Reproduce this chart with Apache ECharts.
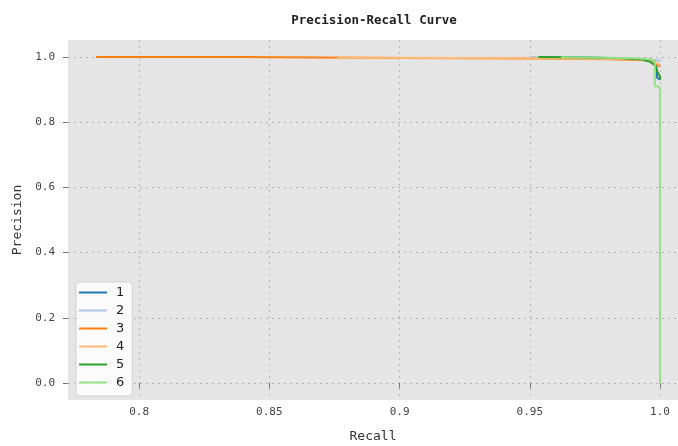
<!DOCTYPE html>
<html>
<head>
    <meta charset="utf-8">
    <title>Precision-Recall Curve</title>
    <script src="https://cdn.jsdelivr.net/npm/echarts@6/dist/echarts.min.js"></script>
    <style>
        html, body { margin: 0; padding: 0; background: #fff; overflow: hidden; }
        #container { width: 678px; height: 446px; }
    </style>
</head>
<body>
<div id="container"></div>
<script type="text/javascript">
    // tick labels
    var xTicks = [0.8, 0.85, 0.9, 0.95, 1.0];
    var yTicks = [0.0, 0.2, 0.4, 0.6, 0.8, 1.0];

    var classNames = ['1', '2', '3', '4', '5', '6'];
    var colors = ['#1f77b4', '#aec7e8', '#ff7f0e', '#ffbb78', '#2ca02c', '#98df8a'];

    // [recall, precision] pairs
    var curve1 = [[0.962, 1.0], [0.985, 0.996], [0.995, 0.99], [0.998, 0.985], [0.9988, 0.96], [0.9988, 0.937], [0.9995, 0.935], [1.0, 0.93]];
    var curve2 = [[0.95, 1.0], [0.98, 0.997], [0.995, 0.992], [0.999, 0.99], [1.0, 0.985]];
    var curve3 = [[0.7835, 1.0], [0.838, 1.0], [0.838, 0.999], [0.9, 0.997], [0.95, 0.995], [0.98, 0.993], [0.995, 0.99], [0.998, 0.985], [0.999, 0.975], [1.0, 0.97]];
    var curve4 = [[0.876, 0.998], [0.92, 0.997], [0.96, 0.995], [0.99, 0.993], [0.997, 0.99], [0.999, 0.98], [1.0, 0.975]];
    var curve5 = [[0.9533, 1.0], [0.965, 0.999], [0.985, 0.996], [0.993, 0.992], [0.996, 0.986], [0.998, 0.975], [0.999, 0.955], [1.0, 0.94], [1.0, 0.93]];
    var curve6 = [[0.962, 0.999], [0.975, 0.998], [0.99, 0.996], [0.996, 0.993], [0.9975, 0.99], [0.998, 0.98], [0.998, 0.91], [0.9995, 0.91], [1.0, 0.9], [1.0, 0.0]];
    var curves = [curve1, curve2, curve3, curve4, curve5, curve6];

    var monoFont = '"DejaVu Sans Mono", monospace';

    var dom = document.getElementById("container");
    var myChart = echarts.init(dom, null, {renderer: 'canvas'});

    var series = [];
    for (var i = 0; i < curves.length; i++) {
        series.push({
            name: classNames[i],
            type: 'line',
            data: curves[i],
            showSymbol: false,
            symbol: 'none',
            animation: false,
            lineStyle: {width: 2, color: colors[i]},
            itemStyle: {color: colors[i]}
        });
    }

    var option = {
        backgroundColor: '#ffffff',
        animation: false,
        color: colors,
        title: {
            text: 'Precision-Recall Curve',
            left: 369,
            top: 9,
            textAlign: 'center',
            textStyle: {fontFamily: monoFont, fontSize: 12.5, fontWeight: 'bold', color: '#222'}
        },
        legend: {
            orient: 'vertical',
            left: 76,
            bottom: 50,
            itemWidth: 28,
            itemHeight: 2,
            itemGap: 5,
            icon: 'rect',
            backgroundColor: 'rgba(255,255,255,0.85)',
            borderColor: '#d0d0d0',
            borderWidth: 1,
            borderRadius: 3,
            padding: [4, 8, 7, 3],
            textStyle: {fontFamily: '"DejaVu Sans", sans-serif', fontSize: 13, color: '#222', padding: [0, 0, 0, 4]},
            data: classNames
        },
        grid: {
            left: 68,
            right: 0,
            top: 40,
            bottom: 46,
            outerBoundsMode: 'none',
            containLabel: false,
            show: true,
            backgroundColor: '#e5e5e5',
            borderWidth: 0
        },
        xAxis: {
            type: 'value',
            min: 0.7727,
            max: 1.0069,
            name: 'Recall',
            nameLocation: 'middle',
            nameGap: 30,
            nameTextStyle: {fontFamily: monoFont, fontSize: 13, color: '#333'},
            axisLine: {show: false},
            axisTick: {show: true, customValues: xTicks, length: 5, lineStyle: {color: '#777'}},
            axisLabel: {
                customValues: xTicks,
                margin: 7,
                fontFamily: monoFont,
                fontSize: 11,
                color: '#444',
                formatter: function (v) {
                    return v === 1 ? '1.0' : String(+v.toFixed(2));
                }
            },
            splitLine: {show: true, lineStyle: {color: '#b5b5b5', type: [2, 4], width: 1}}
        },
        yAxis: {
            type: 'value',
            min: -0.052,
            max: 1.052,
            name: 'Precision',
            nameLocation: 'middle',
            nameGap: 44,
            nameTextStyle: {fontFamily: monoFont, fontSize: 13, color: '#333'},
            axisLine: {show: false},
            axisTick: {show: true, customValues: yTicks, length: 5, lineStyle: {color: '#777'}},
            axisLabel: {
                customValues: yTicks,
                margin: 13,
                fontFamily: monoFont,
                fontSize: 11,
                color: '#444',
                formatter: function (v) {
                    return v.toFixed(1);
                }
            },
            splitLine: {show: true, lineStyle: {color: '#b5b5b5', type: [2, 4], width: 1}}
        },
        series: series
    };

    myChart.setOption(option, true);
</script>
</body>
</html>
